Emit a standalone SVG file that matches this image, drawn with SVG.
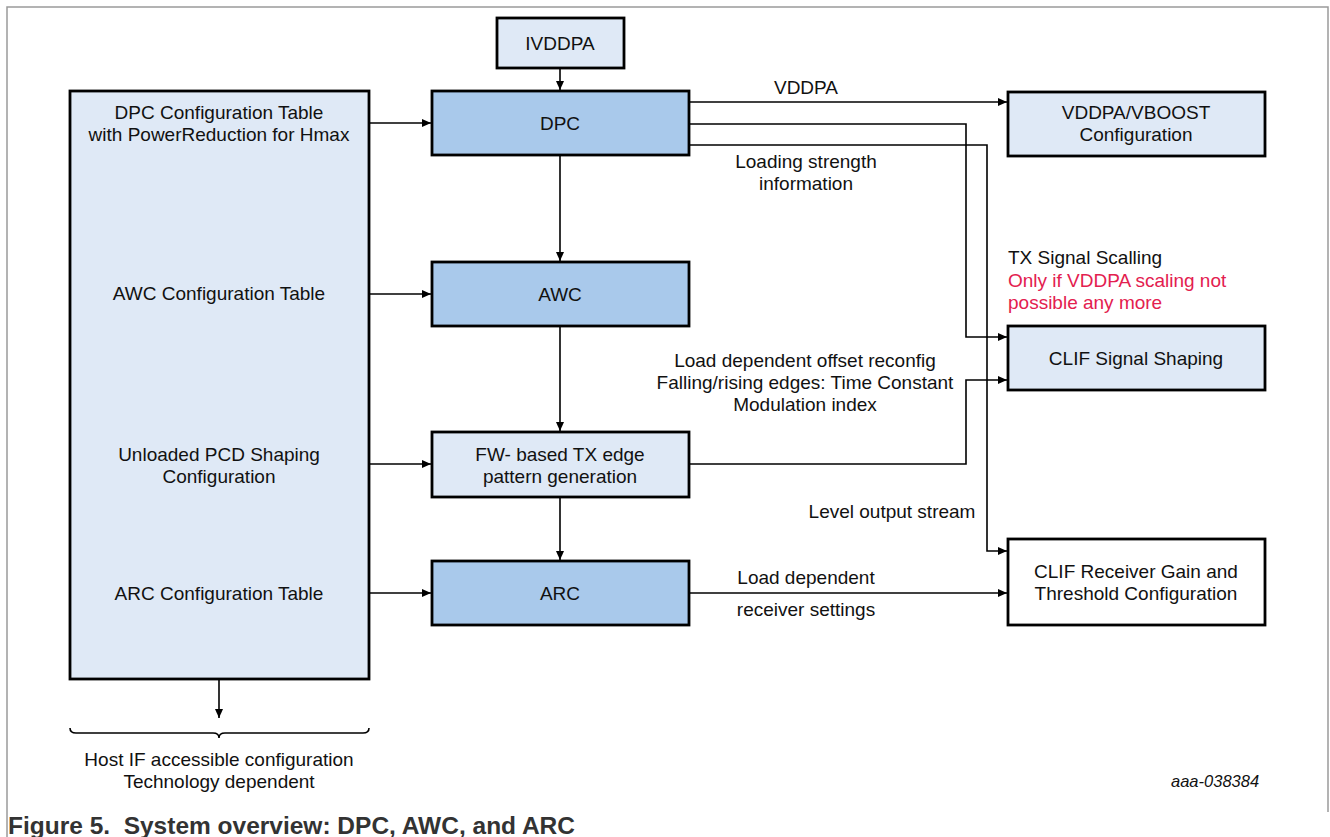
<svg xmlns="http://www.w3.org/2000/svg" width="1330" height="837" viewBox="0 0 1330 837">
<style>
text{font-family:"Liberation Sans",Arial,sans-serif;font-size:19px;fill:#111;}
.c{text-anchor:middle;}
.box{stroke:#000;stroke-width:2.8;}
.dark{fill:#a9c9eb;}
.light{fill:#dfe9f6;}
.white{fill:#fff;}
.ln{fill:none;stroke:#000;stroke-width:1.6;}
.red{fill:#e3204f;}
.frame{stroke:#9a9a9a;stroke-width:1.5;fill:none;}
</style>
<defs>
<marker id="ah" markerWidth="10" markerHeight="10" refX="9" refY="5" orient="auto" markerUnits="userSpaceOnUse">
<path d="M0,1 L9,5 L0,9 Z" fill="#000"/>
</marker>
</defs>
<rect width="1330" height="837" fill="#fff"/>
<path class="frame" d="M7,837 L7,7 L1328,7 L1328,812"/>

<g id="config-tables">
<rect class="box light" x="70" y="91" width="299" height="588"/>
<text class="c" x="219" y="119">DPC Configuration Table</text>
<text class="c" x="219" y="141">with PowerReduction for Hmax</text>
<text class="c" x="219" y="300">AWC Configuration Table</text>
<text class="c" x="219" y="461">Unloaded PCD Shaping</text>
<text class="c" x="219" y="483">Configuration</text>
<text class="c" x="219" y="600">ARC Configuration Table</text>
</g>

<g id="ivddpa">
<rect class="box light" x="497" y="18" width="127" height="50"/>
<text class="c" x="560" y="50">IVDDPA</text>
</g>

<g id="dpc">
<rect class="box dark" x="432" y="91" width="257" height="64"/>
<text class="c" x="560" y="130">DPC</text>
</g>

<g id="awc">
<rect class="box dark" x="432" y="262" width="257" height="64"/>
<text class="c" x="560" y="301">AWC</text>
</g>

<g id="fw">
<rect class="box light" x="432" y="432" width="257" height="65"/>
<text class="c" x="560" y="461">FW- based TX edge</text>
<text class="c" x="560" y="483">pattern generation</text>
</g>

<g id="arc">
<rect class="box dark" x="432" y="561" width="257" height="64"/>
<text class="c" x="560" y="600">ARC</text>
</g>

<g id="vddpa-vboost">
<rect class="box light" x="1008" y="92" width="257" height="64"/>
<text class="c" x="1136" y="119">VDDPA/VBOOST</text>
<text class="c" x="1136" y="141">Configuration</text>
</g>

<g id="clif-shaping">
<rect class="box light" x="1008" y="326" width="257" height="64"/>
<text class="c" x="1136" y="365">CLIF Signal Shaping</text>
</g>

<g id="clif-receiver">
<rect class="box white" x="1008" y="539" width="257" height="86"/>
<text class="c" x="1136" y="578">CLIF Receiver Gain and</text>
<text class="c" x="1136" y="600">Threshold Configuration</text>
</g>

<g id="connectors">
<path class="ln" marker-end="url(#ah)" d="M560,68 L560,90"/>
<path class="ln" marker-end="url(#ah)" d="M369,123 L431,123"/>
<path class="ln" marker-end="url(#ah)" d="M369,294 L431,294"/>
<path class="ln" marker-end="url(#ah)" d="M369,464 L431,464"/>
<path class="ln" marker-end="url(#ah)" d="M369,593 L431,593"/>
<path class="ln" marker-end="url(#ah)" d="M560,155 L560,261"/>
<path class="ln" marker-end="url(#ah)" d="M560,326 L560,431"/>
<path class="ln" marker-end="url(#ah)" d="M560,497 L560,560"/>
<path class="ln" marker-end="url(#ah)" d="M689,102 L1007,102"/>
<path class="ln" marker-end="url(#ah)" d="M689,124 L966,124 L966,337 L1007,337"/>
<path class="ln" marker-end="url(#ah)" d="M689,145 L987,145 L987,551 L1007,551"/>
<path class="ln" marker-end="url(#ah)" d="M689,464 L966,464 L966,380 L1007,380"/>
<path class="ln" marker-end="url(#ah)" d="M689,593 L1007,593"/>
<path class="ln" marker-end="url(#ah)" d="M219,679 L219,718"/>
<path class="ln" stroke-width="1.3" d="M70,728 Q70,733 76,733 L213,733 Q219,733 219,738 Q219,733 225,733 L363,733 Q369,733 369,728"/>
</g>

<g id="labels">
<text class="c" x="806" y="94">VDDPA</text>
<text class="c" x="806" y="168">Loading strength</text>
<text class="c" x="806" y="190">information</text>
<text x="1008" y="264">TX Signal Scalling</text>
<text class="red" x="1008" y="287">Only if VDDPA scaling not</text>
<text class="red" x="1008" y="309">possible any more</text>
<text class="c" x="805" y="367">Load dependent offset reconfig</text>
<text class="c" x="805" y="389">Falling/rising edges: Time Constant</text>
<text class="c" x="805" y="411">Modulation index</text>
<text class="c" x="892" y="518">Level output stream</text>
<text class="c" x="806" y="584">Load dependent</text>
<text class="c" x="806" y="616">receiver settings</text>
<text class="c" x="219" y="766">Host IF accessible configuration</text>
<text class="c" x="219" y="788">Technology dependent</text>
<text x="1171" y="787" style="font-style:italic;font-size:16.5px">aaa-038384</text>
<text x="8" y="834" xml:space="preserve" textLength="567" lengthAdjust="spacingAndGlyphs" style="font-weight:bold;font-size:24px;fill:#333">Figure 5.  System overview: DPC, AWC, and ARC</text>
</g>
</svg>
